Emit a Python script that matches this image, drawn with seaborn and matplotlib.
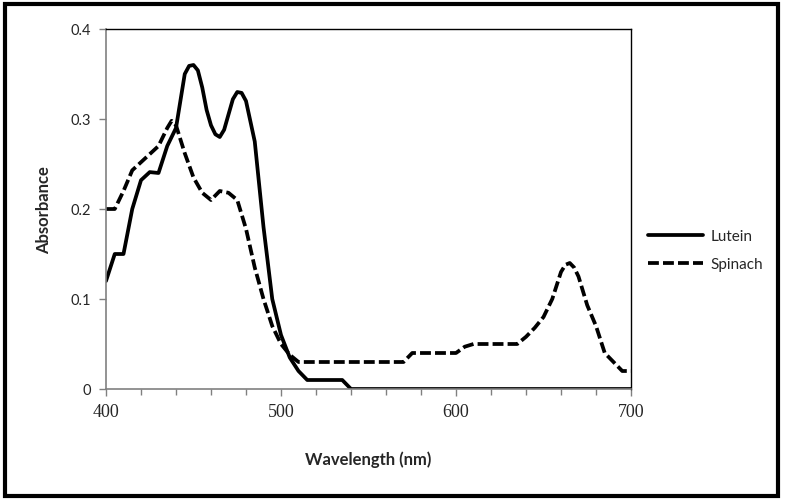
import matplotlib
matplotlib.use("Agg")
import matplotlib.pyplot as plt
from matplotlib.patches import Rectangle
from matplotlib.ticker import MultipleLocator
import pandas as pd
import seaborn as sns

# values
lutein_nm = [400, 405, 410, 415, 420, 425, 430, 435, 440, 445, 447.5, 450,
             452.5, 455, 457.5, 460, 462.5, 465, 467.5, 470, 472.5, 475,
             477.5, 480, 485, 490, 495, 500, 505, 510, 515, 520, 525, 530,
             535, 540, 550, 600, 650, 700]
lutein = [0.12, 0.15, 0.15, 0.20, 0.232, 0.241, 0.24, 0.27, 0.29, 0.35, 0.359,
          0.36, 0.354, 0.335, 0.31, 0.293, 0.283, 0.28, 0.288, 0.305, 0.322,
          0.33, 0.329, 0.32, 0.275, 0.18, 0.10, 0.06, 0.035, 0.02, 0.01, 0.01,
          0.01, 0.01, 0.01, 0.0, 0.0, 0.0, 0.0, 0.0]

spinach_nm = [400, 405, 410, 415, 420, 425, 430, 435, 437.5, 440, 445, 450,
              455, 460, 465, 470, 475, 480, 485, 490, 495, 500, 505, 510, 515,
              540, 570, 575, 600, 605, 610, 635, 640, 645, 650, 655, 660,
              662.5, 665, 667.5, 670, 675, 680, 685, 690, 695, 700]
spinach = [0.20, 0.20, 0.22, 0.243, 0.252, 0.261, 0.27, 0.29, 0.298, 0.293,
           0.262, 0.235, 0.218, 0.21, 0.22, 0.218, 0.21, 0.178, 0.135, 0.10,
           0.07, 0.05, 0.038, 0.03, 0.03, 0.03, 0.03, 0.04, 0.04, 0.047, 0.05,
           0.05, 0.058, 0.068, 0.08, 0.10, 0.13, 0.138, 0.14, 0.135, 0.125,
           0.093, 0.07, 0.04, 0.03, 0.02, 0.02]

series = ["Lutein", "Spinach"]
x_ticks = [400, 500, 600, 700]
y_ticks = [0, 0.1, 0.2, 0.3, 0.4]
y_tick_labels = ["0", "0.1", "0.2", "0.3", "0.4"]

df = pd.DataFrame({
    "Wavelength (nm)": lutein_nm + spinach_nm,
    "Absorbance": lutein + spinach,
    "sample": [series[0]] * len(lutein_nm) + [series[1]] * len(spinach_nm),
})

sns.set_style("white")
plt.rcParams["font.family"] = ["Lato", "DejaVu Sans"]

fig = plt.figure(figsize=(7.86, 5.02), dpi=100)
ax = fig.add_axes([106 / 786, 1 - 390 / 502, 525 / 786, 360 / 502])

sns.lineplot(data=df, x="Wavelength (nm)", y="Absorbance", hue="sample",
             style="sample", palette=["black", "black"],
             dashes={"Lutein": "", "Spinach": (2.9, 1.1)},
             linewidth=2.7, ax=ax, legend=True, sort=True)
for line in ax.lines:
    line.set_solid_joinstyle("round")
    line.set_dash_joinstyle("round")

ax.set_xlim(400, 700)
ax.set_ylim(0, 0.4)
ax.set_xticks(x_ticks)
ax.xaxis.set_minor_locator(MultipleLocator(20))
ax.set_yticks(y_ticks)
ax.set_yticklabels(y_tick_labels)
for lab in ax.get_xticklabels():
    lab.set_fontfamily(["Liberation Serif", "DejaVu Serif"])
    lab.set_fontsize(13)
for lab in ax.get_yticklabels():
    lab.set_fontsize(10.5)

ax.tick_params(axis="both", which="major", direction="out", length=5,
               width=1, color="#808080", bottom=True, left=True, pad=6)
ax.tick_params(axis="x", which="minor", direction="out", length=4,
               width=1, color="#808080", bottom=True)
ax.tick_params(axis="x", which="major", pad=5)

for side in ["left", "bottom"]:
    ax.spines[side].set_color("#808080")
    ax.spines[side].set_linewidth(1.2)
for side in ["top", "right"]:
    ax.spines[side].set_visible(True)
    ax.spines[side].set_color("black")
    ax.spines[side].set_linewidth(1.0)

ax.set_xlabel("Wavelength (nm)", fontsize=12, fontweight="bold", labelpad=22)
ax.set_ylabel("Absorbance", fontsize=12, fontweight="bold", labelpad=13)

handles, labels = ax.get_legend_handles_labels()
ax.legend(handles, labels, loc="center left",
          bbox_to_anchor=(634 / 786, 1 - 251 / 502),
          bbox_transform=fig.transFigure, frameon=False, fontsize=11,
          handlelength=3.6, handletextpad=0.5, labelspacing=0.9)

# outer border round the whole chart
fig.patches.append(Rectangle((5 / 786, 5 / 502), 773 / 786, 492 / 502,
                             transform=fig.transFigure, fill=False,
                             edgecolor="black", linewidth=3))

fig.savefig("out.png", dpi=100)
